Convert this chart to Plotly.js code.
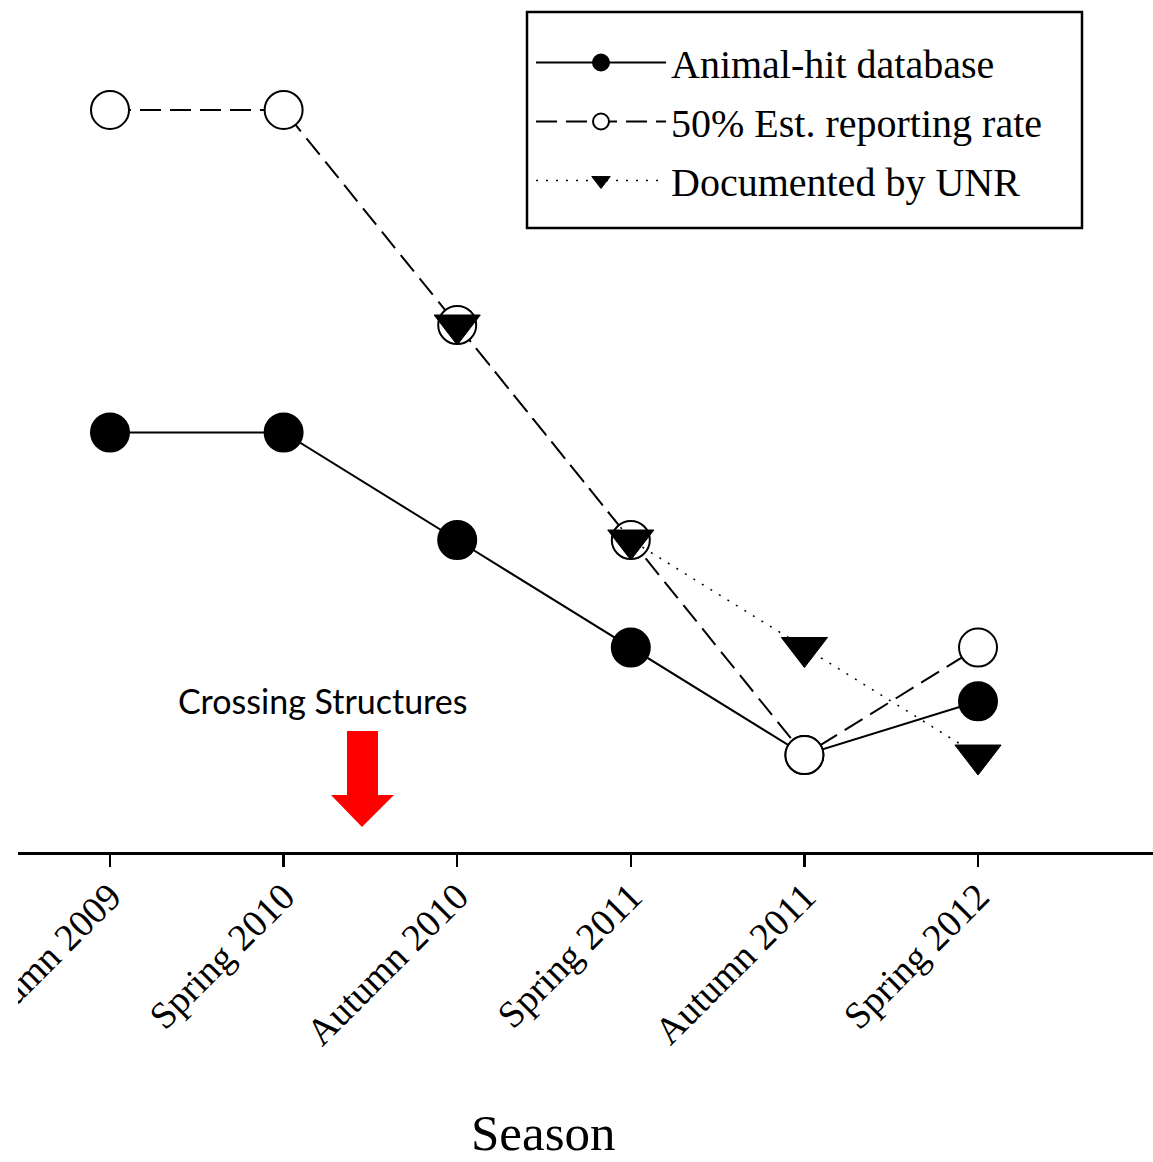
<!DOCTYPE html>
<html>
<head>
<meta charset="utf-8">
<script src="https://cdn.plot.ly/plotly-3.0.1.min.js"></script>
<style>
html,body{margin:0;padding:0;background:#fff;}
#chart{width:1153px;height:1162px;}
</style>
</head>
<body>
<div id="chart"></div>
<script>
// Data
const seasons = ["Autumn 2009", "Spring 2010", "Autumn 2010", "Spring 2011", "Autumn 2011", "Spring 2012"];
const animalHit = [4, 4, 3, 2, 1, 1.5];
const estReporting = [7, 7, 5, 3, 1, 2];
const documentedUNR = [null, null, 5, 3, 2, 1];
const seriesNames = ["Animal-hit database", "50% Est. reporting rate", "Documented by UNR"];
const annotationText = "Crossing Structures";
const axisTitle = "Season";

const serif = "Liberation Serif, Times New Roman, serif";

const traces = [
  {
    x: seasons, y: animalHit, name: seriesNames[0], type: "scatter", mode: "lines+markers",
    legendgroup: "a",
    line: {color: "#000", width: 2, dash: "solid"},
    marker: {symbol: "circle", size: 38, color: "#000", line: {color: "#000", width: 2}}
  },
  {
    x: seasons, y: estReporting, name: seriesNames[1], type: "scatter", mode: "lines+markers",
    legendgroup: "b",
    line: {color: "#000", width: 2, dash: "21px,9px"},
    marker: {symbol: "circle", size: 38, color: "#fff", line: {color: "#000", width: 2}}
  },
  {
    x: seasons, y: documentedUNR, name: seriesNames[2], type: "scatter", mode: "lines+markers",
    legendgroup: "c",
    line: {color: "#000", width: 1.5, dash: "2px,8px"},
    marker: {symbol: "triangle-down", size: 40, color: "#000", line: {color: "#000", width: 1}}
  }
];

const layout = {
  width: 1153, height: 1162,
  margin: {l: 18, r: 0, t: 0, b: 310, pad: 0},
  paper_bgcolor: "#fff", plot_bgcolor: "#fff",
  showlegend: true,
  legend: {
    x: (531 - 18) / 1135, y: 1 - 30 / 852, xanchor: "left", yanchor: "top",
    bgcolor: "rgba(0,0,0,0)", borderwidth: 0,
    font: {family: serif, size: 40, color: "#000"},
    traceorder: "grouped", tracegroupgap: 4,
    itemwidth: 130
  },
  xaxis: {
    type: "category",
    range: [-0.53, 6.008],
    showline: true, linecolor: "#000", linewidth: 3,
    ticks: "outside", ticklen: 12, tickwidth: 2.5, tickcolor: "#000",
    tickangle: -45,
    ticklabelstandoff: -8,
    tickfont: {family: serif, size: 38, color: "#000"},
    showgrid: false, zeroline: false
  },
  yaxis: {
    range: [0.098, 8.023],
    visible: false, showgrid: false, zeroline: false
  },
  annotations: [
    {
      xref: "paper", yref: "paper",
      x: (322 - 18) / 1135, y: (852 - 700) / 852,
      xanchor: "center", yanchor: "middle",
      text: annotationText, showarrow: false,
      font: {family: "Lato, Open Sans, sans-serif", size: 34, color: "#000"}
    },
    {
      xref: "paper", yref: "paper",
      x: (543 - 18) / 1135, y: (852 - 1133) / 852,
      xanchor: "center", yanchor: "middle",
      text: axisTitle, showarrow: false,
      font: {family: serif, size: 51, color: "#000"}
    }
  ],
  shapes: [
    {
      type: "path", xref: "paper", yref: "paper", layer: "above",
      path: "M0.28987,0.14202 L0.31718,0.14202 L0.31718,0.06690 L0.33128,0.06690 L0.30308,0.02934 L0.27577,0.06690 L0.28987,0.06690 Z",
      fillcolor: "#ff0000", line: {width: 0}
    },
    {
      type: "rect", xref: "paper", yref: "paper", layer: "above",
      x0: (527 - 18) / 1135, x1: (1082 - 18) / 1135,
      y0: (852 - 228) / 852, y1: (852 - 12) / 852,
      fillcolor: "rgba(0,0,0,0)", line: {color: "#000", width: 2.5}
    },
    {
      type: "rect", xref: "paper", yref: "paper", layer: "above",
      x0: -0.02, x1: 0, y0: -0.4, y1: -0.003,
      fillcolor: "#fff", line: {width: 0}
    }
  ]
};

Plotly.newPlot("chart", traces, layout, {displayModeBar: false, staticPlot: true});
</script>
</body>
</html>
